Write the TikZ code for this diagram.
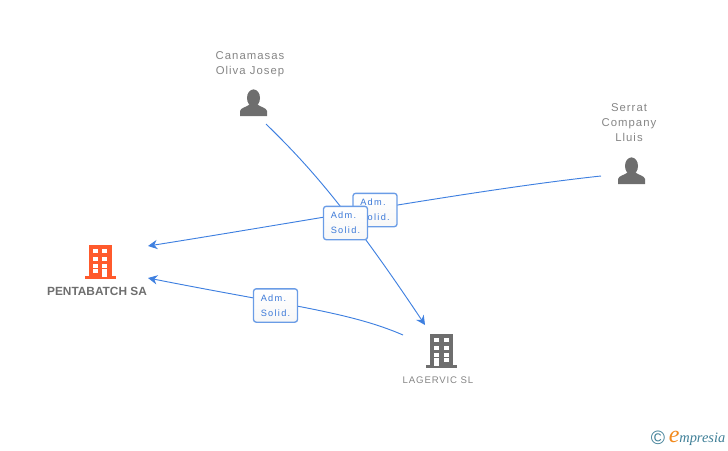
\documentclass[tikz,border=0pt]{standalone}
\usepackage{fontspec}
\setmainfont{Liberation Sans}
\newfontfamily\spacedfont[LetterSpace=9]{Liberation Sans}
\newfontfamily\badgefont[LetterSpace=14]{Liberation Sans}
\newfontfamily\logofont{Liberation Serif}
\usetikzlibrary{arrows.meta}
\definecolor{iconGray}{HTML}{6E6E6E}
\definecolor{textGray}{HTML}{858585}
\definecolor{linkBlue}{HTML}{3F80E0}
\definecolor{badgeBlue}{HTML}{6A9CE6}
\definecolor{badgeText}{HTML}{3A78D8}
\definecolor{buildOrange}{HTML}{FF5A2C}
\definecolor{logoTeal}{HTML}{3F7F97}
\definecolor{logoOrange}{HTML}{F28A1E}
\tikzset{
  persona/.pic={
    \fill[iconGray] (0,0) ellipse (6.5 and 8.6);
    \fill[iconGray] (-13.5,18) -- (-13.5,13) .. controls (-13,9.5) and (-6,9) .. (-3.5,6)
      -- (3.5,6) .. controls (6,9) and (13,9.5) .. (13.5,13) -- (13.5,18) -- cycle;
  },
  edificio/.pic={
    \fill[pic actions] (-11.5,0) rectangle (11.5,32);
    \fill[pic actions] (-15.5,31) rectangle (15.5,34);
    \foreach \wy in {4,11.5,18.5} {
      \fill[white] (-7.5,\wy) rectangle (-2.5,\wy+4);
      \fill[white] (2,\wy) rectangle (7,\wy+4);
    }
  },
}
\begin{document}
\begin{tikzpicture}[x=0.75pt,y=-0.75pt]
  \tikzstyle{Caption} = [text=textGray, font=\spacedfont\fontsize{8.5}{11.2}\selectfont, align=center, inner sep=0pt]
  \tikzstyle{Badge} = [draw=badgeBlue, line width=1pt, rounded corners=2pt, top color=white, bottom color=black!3,
    text=badgeText, font=\badgefont\fontsize{6.9}{11.3}\selectfont, align=left, minimum width=33pt, minimum height=25pt, inner sep=0pt]
  \tikzstyle{Link} = [draw=linkBlue, line width=0.7pt, -{Stealth[length=7pt,width=7pt]}]
  \useasboundingbox (0,0) rectangle (728,450);
  % icons
  \pic[fill=buildOrange] (pentabatch) at (100,245) {edificio};
  \pic[fill=iconGray] (lagervic) at (441.5,334) {edificio};
  \fill[white] (92.5,269) rectangle (97.5,273);
  \fill[white] (102,269) rectangle (107,277);
  \fill[white] (434,358) rectangle (439,365.5);
  \fill[white] (443.5,358) rectangle (448.5,362);
  \pic (canamasas) at (253.5,98) {persona};
  \pic (serrat) at (631.5,166) {persona};
  % captions
  \node (c1) at (250,64) [Caption] {Canamasas\\Oliva Josep};
  \node (c2) at (629,123) [Caption] {Serrat\\Company\\Lluis};
  \node (c3) at (438,380) [Caption, font=\spacedfont\fontsize{7.2}{11}\selectfont] {LAGERVIC SL};
  \node (c4) at (97,291) [Caption, font=\bfseries\fontsize{8.9}{11}\selectfont, text=iconGray] {PENTABATCH SA};
  % ends of the connectors
  \coordinate (a1) at (266,124);
  \coordinate (a2) at (425,325);
  \coordinate (b1) at (601,176);
  \coordinate (b2) at (148,246);
  \coordinate (d1) at (403,335);
  \coordinate (d2) at (148,278);
  \draw [Link] (a1) .. controls (305,162) and (345,205) .. (a2);
  \draw [Link] (b1) .. controls (480,189) and (300,222) .. (b2);
  \draw [Link] (d1) .. controls (350,312) and (290,306) .. (d2);
  % badges
  \node (s2) at (375,210) [Badge] {Adm.\\Solid.};
  \node (s1) at (345.5,223) [Badge] {Adm.\\Solid.};
  \node (s3) at (275.5,305.5) [Badge] {Adm.\\Solid.};
  % logo
  \node (copy) at (658,438) [inner sep=0pt, text=logoTeal, font=\fontsize{14.5}{15}\selectfont] {©};
  \node (logo) at (697,438) [inner sep=0pt, text=logoTeal, font=\logofont\itshape\fontsize{10.8}{11}\selectfont] {\textcolor{logoOrange}{\fontsize{18}{18}\selectfont e}mpresia};
\end{tikzpicture}
\end{document}
